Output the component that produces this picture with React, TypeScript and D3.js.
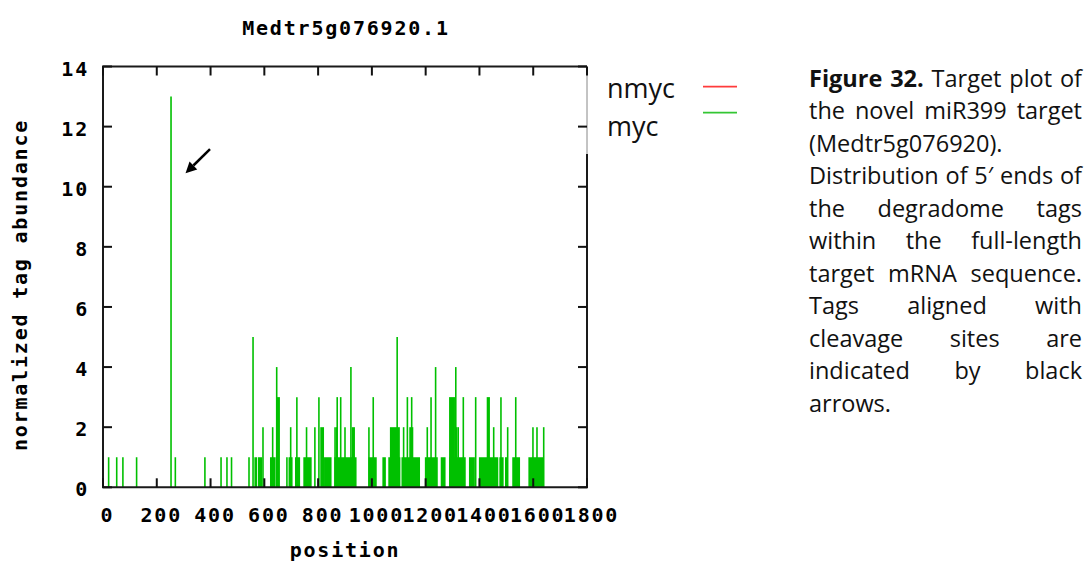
import React, { useEffect, useRef } from "react";
import * as d3 from "d3";

// ---- data ----
const titleText = "Medtr5g076920.1";
const xTicks = [0, 200, 400, 600, 800, 1000, 1200, 1400, 1600, 1800];
const yTicks = [0, 2, 4, 6, 8, 10, 12, 14];
const xLabel = "position";
const yLabel = "normalized tag abundance";
const legendNames = ["nmyc", "myc"];
const legendColors = ["#ff3b3b", "#33c633"];

// single impulses: [position, normalized abundance] (myc)
const spikes: [number, number][] = [
  [21, 1], [51, 1], [74, 1], [125, 1], [253, 13], [269, 1], [379, 1], [439, 1], [461, 1], [478, 1],
  [543, 1], [558, 5], [595, 2], [631, 2], [646, 4], [684, 1], [698, 2], [721, 3], [757, 2], [788, 2],
  [803, 3], [863, 2], [869, 2], [871, 3], [884, 3], [900, 2], [922, 4], [989, 2], [1005, 3],
  [1094, 5], [1118, 2], [1132, 3], [1148, 3], [1206, 2], [1220, 3], [1237, 4], [1312, 4], [1315, 2],
  [1321, 2], [1340, 3], [1386, 3], [1453, 2], [1480, 3], [1505, 2], [1535, 3], [1599, 2], [1614, 2],
  [1639, 2],
];

// contiguous runs of impulses: [start, end, abundance] (myc)
const runs: [number, number, number][] = [
  [563, 573, 1], [576, 592, 1], [621, 642, 1], [647, 658, 3], [690, 705, 1], [714, 733, 1],
  [745, 776, 1], [808, 822, 2], [822, 850, 1], [860, 943, 1], [925, 937, 2], [987, 1018, 1],
  [1039, 1052, 1], [1061, 1106, 1], [1067, 1104, 2], [1110, 1179, 1], [1139, 1154, 2],
  [1197, 1245, 1], [1256, 1274, 1], [1287, 1349, 1], [1287, 1309, 3], [1361, 1383, 1],
  [1398, 1470, 1], [1427, 1439, 3], [1474, 1490, 1], [1495, 1505, 1], [1522, 1551, 1],
  [1582, 1640, 1],
];

// arrow annotation (data coords): tail -> tip
const arrowTail: [number, number] = [398, 11.25];
const arrowTip: [number, number] = [307, 10.45];

const captionLines: { text: string; justify: boolean; bold?: string }[] = [
  { text: "Figure 32. Target plot of", justify: true, bold: "Figure 32." },
  { text: "the novel miR399 target", justify: true },
  { text: "(Medtr5g076920).", justify: false },
  { text: "Distribution of 5\u2032 ends of", justify: true },
  { text: "the degradome tags", justify: true },
  { text: "within the full-length", justify: true },
  { text: "target mRNA sequence.", justify: true },
  { text: "Tags aligned with", justify: true },
  { text: "cleavage sites are", justify: true },
  { text: "indicated by black", justify: true },
  { text: "arrows.", justify: false },
];

const W = 1086;
const H = 563;
const PL = 103, PR = 587, PT = 66.5, PB = 487.3;
const GREEN = "#00c000";
const mono = "'DejaVu Sans Mono', monospace";
const MFS = 20;
const MLS = 1.8;

export default function App() {
  const capRef = useRef<SVGGElement>(null);
  const x = d3.scaleLinear().domain([0, 1800]).range([PL, PR]);
  const y = d3.scaleLinear().domain([0, 14]).range([PB, PT]);

  useEffect(() => {
    const g = d3.select(capRef.current);
    g.selectAll("*").remove();
    const left = 809, right = 1082, base0 = 86.7, lh = 32.5;
    captionLines.forEach((ln, i) => {
      const words = ln.text.split(" ");
      const boldWords = ln.bold ? ln.bold.split(" ") : [];
      const nodes = words.map((w, k) =>
        g.append("text")
          .attr("y", base0 + i * lh)
          .attr("font-family", "'Open Sans', sans-serif")
          .attr("font-size", 23.5)
          .attr("font-weight", k < boldWords.length ? 700 : 400)
          .attr("fill", "#111")
          .text(w)
      );
      const widths = nodes.map((n) => (n.node() as SVGTextElement).getComputedTextLength());
      const total = d3.sum(widths);
      const space = 6.5;
      const gap = ln.justify && words.length > 1 ? (right - left - total) / (words.length - 1) : space;
      let cx = left;
      nodes.forEach((n, k) => {
        n.attr("x", cx);
        cx += widths[k] + gap;
      });
    });
  }, []);

  const ax = x(arrowTail[0]), ay = y(arrowTail[1]);
  const tx = x(arrowTip[0]), ty = y(arrowTip[1]);
  const ang = Math.atan2(ty - ay, tx - ax);
  const hl = 11, hw = 5.5;
  const bx = tx - hl * Math.cos(ang), by = ty - hl * Math.sin(ang);
  const head = [
    [tx, ty],
    [bx + hw * Math.sin(ang), by - hw * Math.cos(ang)],
    [bx - hw * Math.sin(ang), by + hw * Math.cos(ang)],
  ];

  return (
    <svg width={W} height={H} style={{ position: "absolute", left: 0, top: 0, background: "#fff" }}>
      <rect x={0} y={0} width={W} height={H} fill="#fff" />
      {/* title */}
      <text x={(PL + PR) / 2 + 1} y={35} textAnchor="middle" fontFamily={mono} fontWeight={700}
        fontSize={MFS} letterSpacing={MLS}>{titleText}</text>

      {/* data: runs */}
      {runs.map(([s, e, v], i) => (
        <rect key={"r" + i} x={x(s)} y={y(v)} width={x(e) - x(s)} height={y(0) - y(v)} fill={GREEN} />
      ))}
      {/* data: impulses */}
      {spikes.map(([p, v], i) => (
        <line key={"s" + i} x1={x(p)} x2={x(p)} y1={y(0)} y2={y(v)} stroke={GREEN} strokeWidth={1.6} />
      ))}

      {/* frame */}
      <path d={`M${PR},${PT}H${PL}V${PB}H${PR}V154`} fill="none" stroke="#1a1a1a" strokeWidth={2} />
      <line x1={PR} x2={PR} y1={PT} y2={154} stroke="#888" strokeWidth={1} />

      {/* ticks */}
      {xTicks.map((t) => (
        <g key={"xt" + t}>
          <line x1={x(t)} x2={x(t)} y1={PB} y2={PB - 9} stroke="#111" strokeWidth={2} />
          <line x1={x(t)} x2={x(t)} y1={PT} y2={PT + 9} stroke="#111" strokeWidth={2} />
          <text x={x(t) + 4.5} y={522} textAnchor="middle" fontFamily={mono} fontWeight={700}
            fontSize={MFS} letterSpacing={MLS}>{t}</text>
        </g>
      ))}
      {yTicks.map((t) => (
        <g key={"yt" + t}>
          <line x1={PL} x2={PL + 9} y1={y(t)} y2={y(t)} stroke="#111" strokeWidth={2} />
          <line x1={PR} x2={PR - 9} y1={y(t)} y2={y(t)} stroke="#111" strokeWidth={2} />
          <text x={89} y={y(t) + 9} textAnchor="end" fontFamily={mono} fontWeight={700}
            fontSize={MFS} letterSpacing={MLS}>{t}</text>
        </g>
      ))}

      {/* axis labels */}
      <text x={(PL + PR) / 2} y={557} textAnchor="middle" fontFamily={mono} fontWeight={700}
        fontSize={MFS} letterSpacing={MLS}>{xLabel}</text>
      <text transform={`translate(27,285) rotate(-90)`} textAnchor="middle" fontFamily={mono}
        fontWeight={700} fontSize={MFS} letterSpacing={MLS}>{yLabel}</text>

      {/* arrow */}
      <line x1={ax} y1={ay} x2={bx} y2={by} stroke="#000" strokeWidth={2.5} />
      <polygon points={head.map((p) => p.join(",")).join(" ")} fill="#000" />

      {/* legend */}
      {legendNames.map((n, i) => (
        <g key={n}>
          <text x={607} y={98 + i * 38} fontFamily="'Open Sans', sans-serif" fontSize={27} fill="#111">{n}</text>
          <line x1={703} x2={737} y1={86.7 + i * 26} y2={86.7 + i * 26} stroke={legendColors[i]} strokeWidth={1.8} />
        </g>
      ))}

      {/* caption */}
      <g ref={capRef} />
    </svg>
  );
}
